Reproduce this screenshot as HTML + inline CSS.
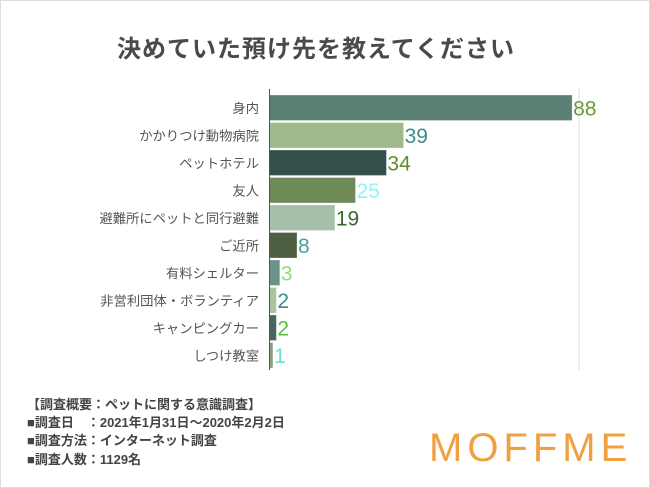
<!DOCTYPE html>
<html><head><meta charset="utf-8"><style>
body{margin:0;background:#fff;}
#wrap{position:relative;width:650px;height:488px;box-sizing:border-box;border:1px solid #ddd;overflow:hidden;font-family:"Liberation Sans","Noto Sans CJK JP",sans-serif;}
#title{position:absolute;left:0;width:630px;top:28px;text-align:center;font-size:24px;font-weight:bold;color:#4a4a4a;letter-spacing:1px;}
.note{position:absolute;left:26px;font-size:13px;font-weight:bold;color:#444;white-space:pre;}
#logo{position:absolute;left:428px;top:425px;font-size:40px;color:#f0a040;letter-spacing:5px;font-family:"Liberation Sans",sans-serif;}
</style></head><body>
<div id="wrap">
<div id="title">決めていた預け先を教えてください</div>
<svg id="chart" width="650" height="488" style="position:absolute;left:0;top:0"></svg>
<div class="note" style="top:393px">【調査概要：ペットに関する意識調査】</div>
<div class="note" style="top:411px">■調査日　：2021年1月31日〜2020年2月2日</div>
<div class="note" style="top:429px">■調査方法：インターネット調査</div>
<div class="note" style="top:448px">■調査人数：1129名</div>
<div id="logo">MOFFME</div>
</div>
<script>
const categories=["身内","かかりつけ動物病院","ペットホテル","友人","避難所にペットと同行避難","ご近所","有料シェルター","非営利団体・ボランティア","キャンピングカー","しつけ教室"];
const values=[88,39,34,25,19,8,3,2,2,1];
const barColors=["#5a8073","#9eba8a","#344f49","#6e8a57","#a5bfaa","#4e5e40","#6a948a","#a9c49c","#4a6462","#8aa07a"];
const labelColors=["#6a9a3a","#3f8a8a","#5e8e2e","#8ef5f5","#3a6a2a","#4aa0a0","#8ce07a","#3f8a8a","#5ac03a","#6ae0d0"];
const gridMax=90;
const NS="http://www.w3.org/2000/svg";
const svg=document.getElementById('chart');
const x0=268.5,x1=578,yTop=94,pitch=27.5,barH=25.5;
const xs=v=>x0+(x1-x0)*v/gridMax;
const ys=i=>yTop+i*pitch;
function mk(t,a){const e=document.createElementNS(NS,t);for(const k in a)e.setAttribute(k,a[k]);svg.appendChild(e);return e;}
const g=mk('line',{x1:xs(gridMax),x2:xs(gridMax),y1:88,y2:369,stroke:'#ddd','stroke-width':1});


categories.forEach((c,i)=>{
  const r=mk('rect',{x:x0,y:ys(i),width:xs(values[i])-x0,height:barH,fill:barColors[i],stroke:'#fff','stroke-opacity':0.3});
  
  
  const t=mk('text',{x:258,y:ys(i)+barH/2+5,'text-anchor':'end','font-size':13.3,fill:'#555'});
  t.textContent=c;
  
  
  const v=mk('text',{x:xs(values[i])+1,y:ys(i)+barH/2+7.5,'font-size':21,fill:labelColors[i]});
  v.textContent=values[i];
  
  
});
const ax=mk('line',{x1:x0,x2:x0,y1:88,y2:369,stroke:'#555','stroke-width':1});


</script>
</body></html>
